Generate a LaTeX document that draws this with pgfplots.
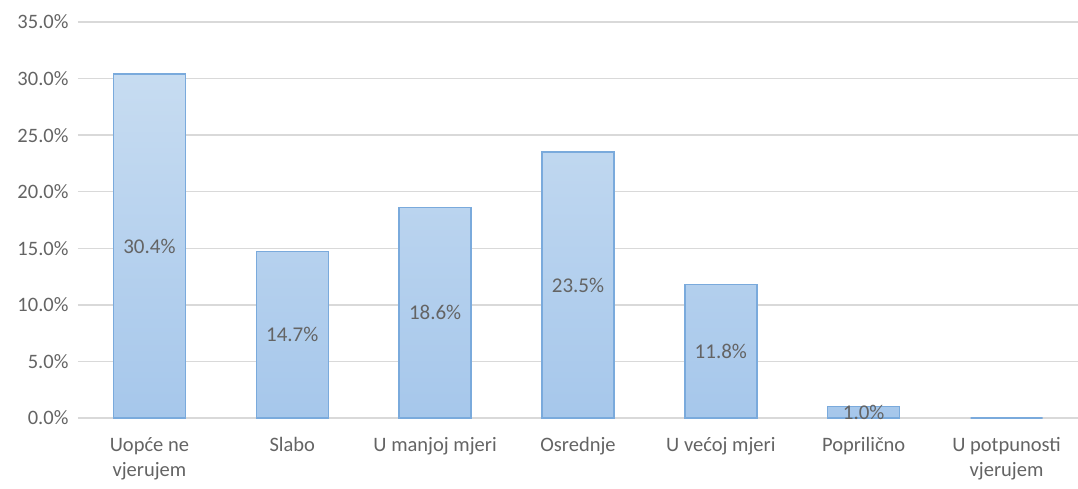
\documentclass[border=0pt]{standalone}
\usepackage{fontspec}
\setmainfont{Carlito}
\usepackage{pgfplots}
\pgfplotsset{compat=1.18}
\definecolor{barline}{RGB}{122,170,220}
\definecolor{bartop}{RGB}{199,220,241}
\definecolor{barbot}{RGB}{166,199,235}
\definecolor{txtgray}{RGB}{100,100,100}
\definecolor{gridgray}{RGB}{217,217,217}

\begin{document}
\begin{tikzpicture}
\useasboundingbox (-78pt,-70pt) rectangle (1000pt,418pt);
\begin{axis}[
    at={(0pt,0pt)}, anchor=south west,
    scale only axis,
    width=1000pt, height=396pt,
    ybar, bar width=72pt,
    xmin=-0.5, xmax=6.5,
    ymin=0, ymax=35,
    axis line style={draw=none},
    major tick length=0pt,
    ymajorgrids,
    grid style={gridgray, line width=1.4pt},
    ytick={0,5,...,35},
    yticklabel={\pgfmathprintnumber[fixed,fixed zerofill,precision=1]{\tick}\%},
    /pgf/number format/assume math mode=true,
    xtick=data,
    xticklabels={{Uopće ne\\vjerujem},Slabo,U manjoj mjeri,Osrednje,U većoj mjeri,Poprilično,{U potpunosti\\vjerujem}},
    xticklabel style={align=center, text=txtgray, font=\fontsize{20.5}{25}\selectfont, yshift=-16pt},
    yticklabel style={text=txtgray, font=\fontsize{20.5}{24}\selectfont, xshift=-6pt},
    visualization depends on=y \as \rawy,
    nodes near coords={\pgfmathfloatifflags{\pgfplotspointmeta}{0}{}{\pgfmathprintnumber[fixed,fixed zerofill,precision=1]{\pgfplotspointmeta}\%}},
    every node near coord/.append style={anchor=center, text=txtgray, font=\fontsize{21}{24}\selectfont,
        shift={(axis direction cs:0,-\rawy/2)}},
    clip=false,
]
\addplot[draw=barline, line width=1.5pt, top color=bartop, bottom color=barbot]
coordinates {(0,30.4) (1,14.7) (2,18.6) (3,23.5) (4,11.8) (5,1.0) (6,0.0)};
\end{axis}
\end{tikzpicture}
\end{document}
